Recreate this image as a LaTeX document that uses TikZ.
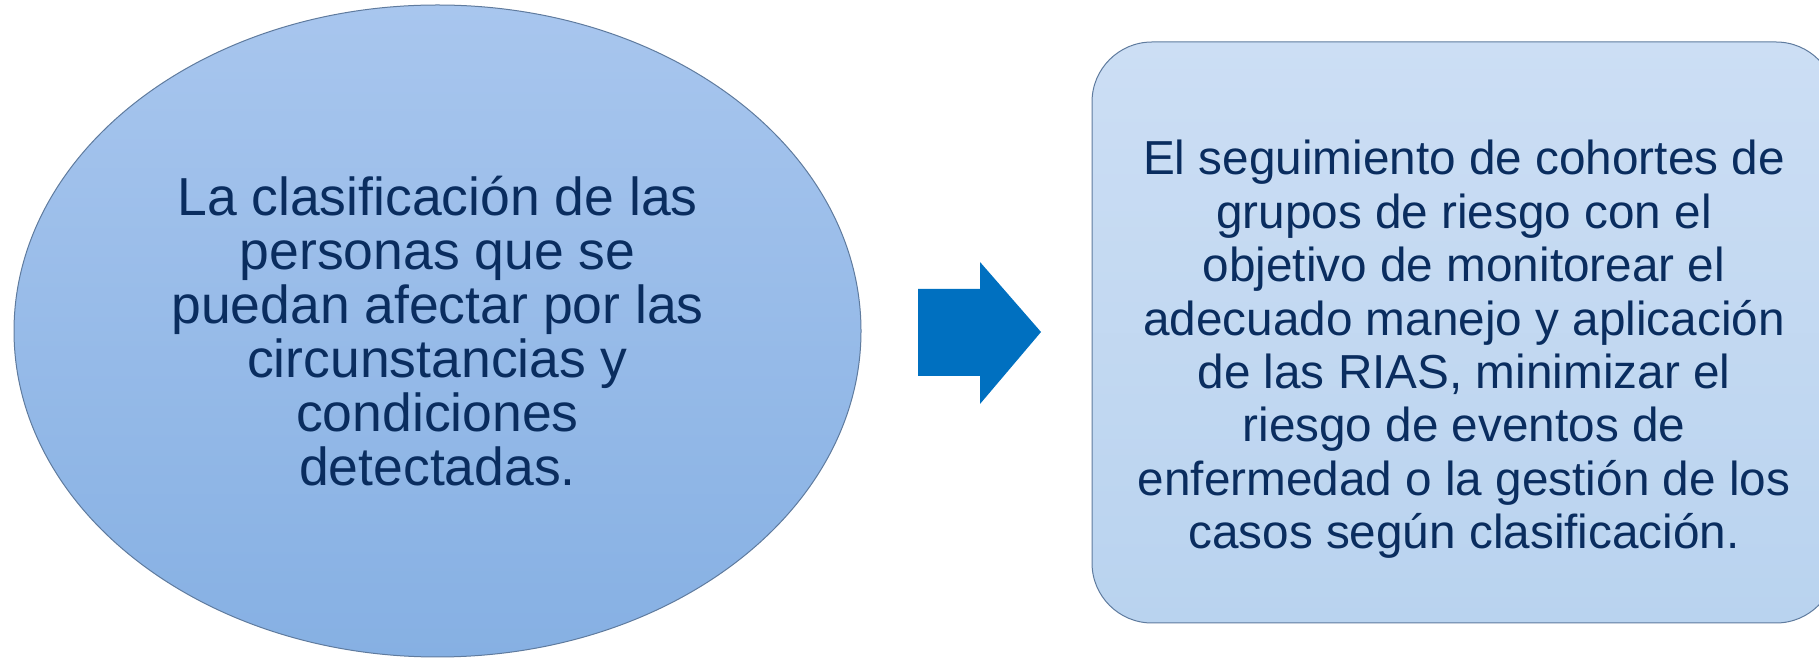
\documentclass[tikz,border=0pt]{standalone}
\usepackage{fontspec}
\setmainfont{Liberation Sans}
\usetikzlibrary{positioning,shapes.geometric}
\definecolor{textoazul}{HTML}{0A2D5F}
\definecolor{bordegris}{HTML}{5F7B9E}
\definecolor{elipsearriba}{HTML}{A8C6EE}
\definecolor{elipseabajo}{HTML}{86B0E3}
\definecolor{cajaarriba}{HTML}{CCDEF4}
\definecolor{cajaabajo}{HTML}{B9D3EF}
\definecolor{flechaazul}{HTML}{0070C0}
\begin{document}
\begin{tikzpicture}[x=1pt,y=1pt,
    texto/.style={text=textoazul,align=center,inner sep=0pt},
    elipse/.style={ellipse,draw=bordegris,line width=1pt,top color=elipsearriba,bottom color=elipseabajo,
        minimum width=847,minimum height=652,inner sep=0pt},
    caja/.style={draw=bordegris,line width=1pt,rounded corners=60,top color=cajaarriba,bottom color=cajaabajo,
        minimum width=744,minimum height=581,inner sep=0pt}]
            \useasboundingbox (0,0) rectangle (1819,658);
            % the two blocks
            \node[elipse,texto,font=\fontsize{53.5}{53.9}\selectfont] (clasif) at (437.5,327) {La clasificación de las\\personas que se\\puedan afectar por las\\circunstancias y\\condiciones\\detectadas.};
            \node[caja] (seguim) at (1464,325.5) {};
            \node[texto,font=\fontsize{47.7}{53.4}\selectfont,yshift=-17] (seguimtxt) at (seguim.center) {El seguimiento de cohortes de\\grupos de riesgo con el\\objetivo de monitorear el\\adecuado manejo y aplicación\\de las RIAS, minimizar el\\riesgo de eventos de\\enfermedad o la gestión de los\\casos según clasificación.};
            % block arrow between them
            \fill[flechaazul] (918,369) -- (980,369) -- (980,396) -- (1041,326) -- (980,254)
                -- (980,282) -- (918,282) -- cycle;
        \end{tikzpicture}
\end{document}
